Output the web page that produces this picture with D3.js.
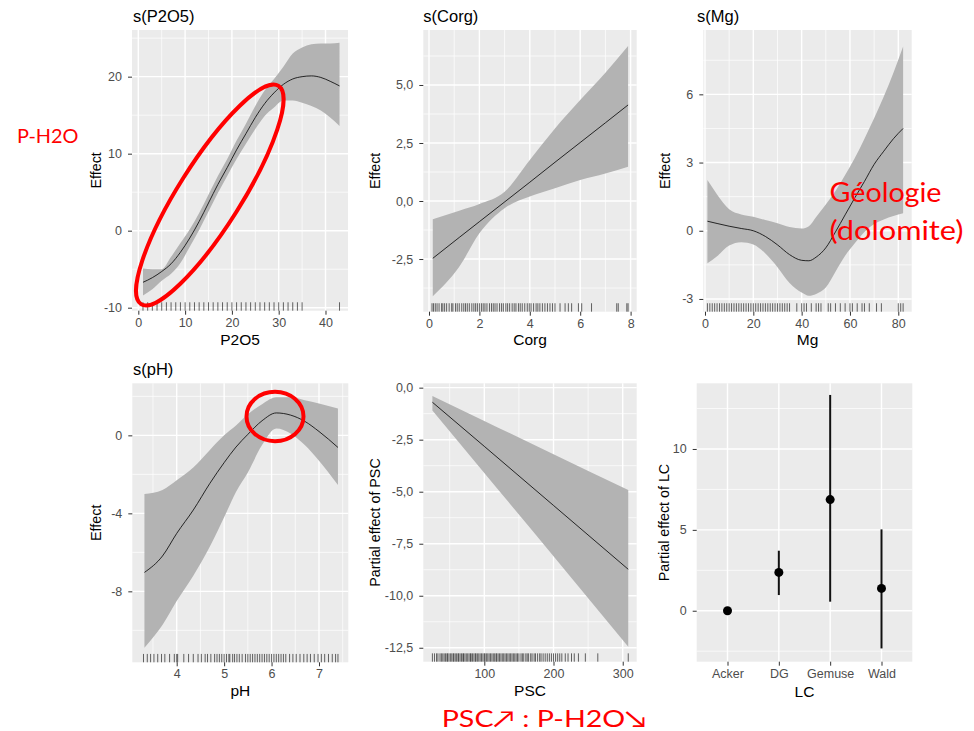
<!DOCTYPE html>
<html><head><meta charset="utf-8">
<script src="https://cdn.jsdelivr.net/npm/d3@7"></script>
<style>
body{margin:0;background:#fff}
svg{display:block}
text{font-family:"Liberation Sans",Arial,sans-serif}
</style>
</head><body>
<svg id="c" width="974" height="731"></svg>
<script>
// ---------------- DATA ----------------
// s(P2O5)
const p2o5X   = [1, 3, 5, 7, 9, 11, 13, 15, 17, 19, 21, 23, 25, 27, 29, 31, 33, 35, 37, 39, 41, 43];
const p2o5Fit = [-6.7, -6.1, -5.3, -4.3, -2.8, -0.95, 1.2, 3.6, 6.0, 8.2, 10.5, 12.6, 14.7, 16.5, 17.9, 19.0, 19.7, 20.0, 20.1, 19.9, 19.4, 18.8];
const p2o5Lo  = [-8.4, -7.6, -6.5, -5.6, -4.2, -2.1, 0.1, 2.5, 4.9, 7.1, 9.3, 11.3, 13.2, 14.9, 16.0, 16.9, 16.9, 16.6, 16.2, 15.6, 14.7, 13.6];
const p2o5Hi  = [-4.9, -5.0, -5.0, -3.4, -1.6, 0.2, 2.3, 4.7, 7.1, 9.3, 11.7, 13.9, 16.2, 18.2, 19.7, 21.3, 23.0, 23.8, 24.2, 24.3, 24.3, 24.4];
const p2o5Rug = [1,2,3,4,5,6,7,8,9,10,11,12,13,14,15,16,17,18,19,20,21,22,23,24,25,26,27,28,29,30,31,32,33,34,35,43];
// s(Corg)
const corgX   = [0.15, 1.2, 2.0, 3.0, 4.0, 5.0, 6.0, 7.0, 7.9];
const corgFit = [-2.47, -1.57, -0.89, -0.04, 0.81, 1.67, 2.52, 3.37, 4.14];
const corgLo  = [-4.10, -2.83, -1.39, -0.31, 0.19, 0.55, 0.91, 1.19, 1.48];
const corgHi  = [-0.79, -0.42, -0.13, 0.40, 1.77, 3.13, 4.35, 5.53, 6.68];
const corgRug = [0.12,0.18,0.25,0.32,0.4,0.5,0.55,0.62,0.7,0.8,0.9,0.95,1.05,1.12,1.2,1.3,1.38,1.45,1.52,1.6,1.7,1.78,1.85,1.92,2.0,2.08,2.15,2.22,2.3,2.4,2.48,2.55,2.62,2.7,2.8,2.88,2.95,3.05,3.12,3.2,3.3,3.38,3.45,3.55,3.62,3.7,3.8,3.9,3.98,4.05,4.15,4.25,4.32,4.4,4.5,4.6,4.7,4.8,4.9,5.0,5.2,5.4,5.53,5.66,5.93,6.06,6.45,7.45,7.51,7.85,7.9];
// s(Mg)
const mgX   = [1, 5, 10, 15, 20, 25, 30, 35, 40, 43, 46, 50, 54, 58, 62, 66, 70, 74, 78, 82];
const mgFit = [0.42, 0.32, 0.2, 0.1, 0.0, -0.25, -0.62, -1.05, -1.3, -1.32, -1.16, -0.75, -0.05, 0.7, 1.45, 2.17, 2.92, 3.5, 4.05, 4.5];
const mgLo  = [-1.43, -1.12, -0.65, -0.5, -0.6, -1.0, -1.6, -2.3, -2.72, -2.86, -2.78, -2.5, -1.8, -1.1, -0.55, -0.05, 0.3, 0.5, 0.65, 0.77];
const mgHi  = [2.23, 1.6, 0.95, 0.72, 0.62, 0.47, 0.33, 0.16, 0.1, 0.2, 0.6, 1.15, 1.75, 2.45, 3.2, 4.05, 4.95, 5.9, 6.95, 8.1];
const mgRug = [1,2,3,4,5,6,7,8,9,10,11,12,13,14,15,16,17,18,19,20,21,22,23,24,25,26,27,28,29,30,31,32,33,34,35,38,40,41,42,44,46,47,48,51,52,54,56,58,60,61,63,65,66,68,71,73,80,81,82];
// s(pH)
const phX   = [3.32, 3.7, 4.0, 4.35, 4.7, 5.0, 5.25, 5.5, 5.8, 6.1, 6.4, 6.7, 7.0, 7.4];
const phFit = [-7.03, -6.19, -5.03, -3.83, -2.46, -1.4, -0.6, 0.05, 0.75, 1.15, 1.04, 0.72, 0.2, -0.62];
const phLo  = [-10.89, -9.73, -8.5, -7.2, -5.7, -4.2, -2.9, -1.9, -0.5, 0.35, 0.1, -0.5, -1.3, -2.55];
const phHi  = [-3.01, -2.8, -2.3, -1.65, -0.75, 0.0, 0.5, 1.08, 1.6, 1.95, 1.95, 1.8, 1.64, 1.38];
const phRug = [3.3,3.38,3.45,3.52,3.6,3.68,3.75,3.85,3.95,4.0,4.02,4.15,4.25,4.35,4.45,4.52,4.6,4.65,4.72,4.8,4.85,4.9,4.95,5.0,5.05,5.1,5.12,5.18,5.22,5.27,5.32,5.38,5.45,5.5,5.55,5.6,5.65,5.7,5.75,5.8,5.85,5.9,5.95,6.0,6.05,6.1,6.15,6.2,6.25,6.3,6.38,6.45,6.52,6.6,6.68,6.75,6.82,6.9,6.98,7.05,7.12,7.2,7.28,7.35,7.4];
// PSC (linear)
const pscX   = [25, 100, 200, 308];
const pscFit = [-0.70, -2.82, -5.66, -8.73];
const pscLo  = [-1.10, -4.10, -8.10, -12.45];
const pscHi  = [-0.40, -1.60, -3.20, -4.92];
const pscRug = [25,28,31,33,36,38,40,42,44,46,47,49,51,53,55,56,58,60,62,63,65,67,69,70,72,74,76,78,80,81,83,85,87,88,90,92,94,96,98,100,101,103,105,107,109,111,113,115,117,118,120,122,124,126,128,130,132,134,136,138,140,142,144,146,148,150,153,155,157,160,162,164,167,169,172,174,177,180,182,185,188,191,194,197,200,203,206,209,212,217,221,226,230,236,246,264,308];
// LC (factor)
const lcCats = ["Acker", "DG", "Gemuse", "Wald"];
const lcEst  = [0, 2.37, 6.87, 1.38];
const lcLo   = [0, 0.97, 0.56, -2.33];
const lcHi   = [0, 3.71, 13.34, 5.03];
// tick labels
const p2o5XTicks = [0, 10, 20, 30, 40];
const p2o5YTicks = [-10, 0, 10, 20];
const corgXTicks = [0, 2, 4, 6, 8];
const corgYTicks = [-2.5, 0, 2.5, 5];
const mgXTicks   = [0, 20, 40, 60, 80];
const mgYTicks   = [-3, 0, 3, 6];
const phXTicks   = [4, 5, 6, 7];
const phYTicks   = [-8, -4, 0];
const pscXTicks  = [100, 200, 300];
const pscYTicks  = [-12.5, -10, -7.5, -5, -2.5, 0];
const lcYTicks   = [0, 5, 10];

// ---------------- DRAW ----------------
const svg = d3.select("#c");
const loc = d3.formatLocale({decimal: ",", thousands: ".", grouping: [3], currency: ["", ""], minus: "-"});
const fInt = loc.format("d");
const fDec = loc.format(".1f");

function minorOf(ticks, dom) {
  const s = ticks[1] - ticks[0];
  const lo = Math.min(dom[0], dom[1]), hi = Math.max(dom[0], dom[1]);
  const c = [ticks[0] - s / 2].concat(ticks.map(v => v + s / 2));
  return c.filter(v => v > lo && v < hi);
}

function frame(o) {
  const g = svg.append("g");
  const x = o.x, y = o.y;
  const [l, r] = x.range();
  const [b, t] = y.range();
  g.append("rect").attr("x", l).attr("y", t).attr("width", r - l).attr("height", b - t).attr("fill", "#ebebeb");
  // minor grid
  g.selectAll(null).data(minorOf(o.yTicks, y.domain())).join("line")
    .attr("x1", l).attr("x2", r).attr("y1", d => y(d)).attr("y2", d => y(d))
    .attr("stroke", "#fff").attr("stroke-width", 0.7);
  if (!o.discrete) {
    g.selectAll(null).data(minorOf(o.xTicks, x.domain())).join("line")
      .attr("y1", t).attr("y2", b).attr("x1", d => x(d)).attr("x2", d => x(d))
      .attr("stroke", "#fff").attr("stroke-width", 0.7);
  }
  // major grid
  g.selectAll(null).data(o.yTicks).join("line")
    .attr("x1", l).attr("x2", r).attr("y1", d => y(d)).attr("y2", d => y(d))
    .attr("stroke", "#fff").attr("stroke-width", 1.4);
  g.selectAll(null).data(o.xTicks).join("line")
    .attr("y1", t).attr("y2", b).attr("x1", d => x(d)).attr("x2", d => x(d))
    .attr("stroke", "#fff").attr("stroke-width", 1.4);
  // axes
  const ya = g.append("g").attr("transform", `translate(${l},0)`)
    .call(d3.axisLeft(y).tickValues(o.yTicks).tickFormat(o.yFmt).tickSize(4).tickPadding(6));
  const xa = g.append("g").attr("transform", `translate(0,${b})`)
    .call(d3.axisBottom(x).tickValues(o.xTicks).tickFormat(o.xFmt || null).tickSize(4).tickPadding(3));
  [ya, xa].forEach(a => {
    a.select(".domain").remove();
    a.selectAll(".tick line").attr("stroke", "#333").attr("stroke-width", 1);
    a.selectAll(".tick text").attr("fill", "#4d4d4d").style("font-size", "12.5px")
      .style("font-family", '"Liberation Sans",Arial,sans-serif');
  });
  // titles
  if (o.title) {
    g.append("text").attr("x", o.titleX).attr("y", o.titleY).text(o.title)
      .style("font-size", "16.5px").attr("fill", "#000");
  }
  g.append("text").attr("x", (l + r) / 2).attr("y", o.xLabY).attr("text-anchor", "middle")
    .style("font-size", "15.5px").attr("fill", "#000").text(o.xLab);
  g.append("text").attr("transform", `translate(${o.yLabX},${(t + b) / 2}) rotate(-90)`)
    .attr("text-anchor", "middle").style("font-size", "14.3px").attr("fill", "#000").text(o.yLab);
  return g;
}

function smooth(o) {
  const g = frame(o);
  const x = o.x, y = o.y;
  const [b, t] = y.range();
  const area = d3.area().x((d, i) => x(o.xs[i])).y0((d, i) => y(o.lo[i])).y1((d, i) => y(o.hi[i]))
    .curve(d3.curveMonotoneX);
  g.append("path").attr("d", area(o.xs)).attr("fill", "#b3b3b3");
  const line = d3.line().x((d, i) => x(o.xs[i])).y((d, i) => y(o.fit[i])).curve(d3.curveMonotoneX);
  g.append("path").attr("d", line(o.xs)).attr("fill", "none").attr("stroke", "#000").attr("stroke-width", 0.8);
  const rl = 0.03 * (b - t);
  g.selectAll(null).data(o.rug).join("line")
    .attr("x1", d => x(d)).attr("x2", d => x(d)).attr("y1", b).attr("y2", b - rl)
    .attr("stroke", "#000").attr("stroke-opacity", 0.75).attr("stroke-width", 0.8);
}

// Panel 1: s(P2O5)
smooth({
  x: d3.scaleLinear().domain([-1.35, 44.81]).range([132, 348]),
  y: d3.scaleLinear().domain([-10.39, 26.06]).range([310.7, 30]),
  xTicks: p2o5XTicks, yTicks: p2o5YTicks, yFmt: fInt, xFmt: fInt,
  title: "s(P2O5)", titleX: 133, titleY: 22, xLab: "P2O5", xLabY: 345, yLab: "Effect", yLabX: 100.5,
  xs: p2o5X, fit: p2o5Fit, lo: p2o5Lo, hi: p2o5Hi, rug: p2o5Rug
});
// Panel 2: s(Corg)
smooth({
  x: d3.scaleLinear().domain([-0.226, 8.242]).range([423.3, 636.7]),
  y: d3.scaleLinear().domain([-4.77, 7.37]).range([311.7, 30]),
  xTicks: corgXTicks, yTicks: corgYTicks, yFmt: fDec, xFmt: fInt,
  title: "s(Corg)", titleX: 423.3, titleY: 22, xLab: "Corg", xLabY: 345, yLab: "Effect", yLabX: 380,
  xs: corgX, fit: corgFit, lo: corgLo, hi: corgHi, rug: corgRug
});
// Panel 3: s(Mg)
smooth({
  x: d3.scaleLinear().domain([-0.70, 85.55]).range([703.3, 911.7]),
  y: d3.scaleLinear().domain([-3.56, 8.83]).range([311.7, 30]),
  xTicks: mgXTicks, yTicks: mgYTicks, yFmt: fInt, xFmt: fInt,
  title: "s(Mg)", titleX: 697, titleY: 22, xLab: "Mg", xLabY: 345, yLab: "Effect", yLabX: 670,
  xs: mgX, fit: mgFit, lo: mgLo, hi: mgHi, rug: mgRug
});
// Panel 4: s(pH)
smooth({
  x: d3.scaleLinear().domain([3.064, 7.618]).range([132.3, 348.3]),
  y: d3.scaleLinear().domain([-11.64, 2.67]).range([662.3, 383.3]),
  xTicks: phXTicks, yTicks: phYTicks, yFmt: fInt, xFmt: fInt,
  title: "s(pH)", titleX: 133, titleY: 375, xLab: "pH", xLabY: 696, yLab: "Effect", yLabX: 100.5,
  xs: phX, fit: phFit, lo: phLo, hi: phHi, rug: phRug
});
// Panel 5: PSC
smooth({
  x: d3.scaleLinear().domain([11.85, 320.2]).range([423.3, 636.7]),
  y: d3.scaleLinear().domain([-13.17, 0.21]).range([661.7, 383.3]),
  xTicks: pscXTicks, yTicks: pscYTicks, yFmt: fDec, xFmt: fInt,
  title: null, xLab: "PSC", xLabY: 696, yLab: "Partial effect of PSC", yLabX: 380,
  xs: pscX, fit: pscFit, lo: pscLo, hi: pscHi, rug: pscRug
});
// Panel 6: LC
(function () {
  const x = d3.scalePoint().domain(lcCats).range([696.7, 912.3]).padding(0.6);
  const y = d3.scaleLinear().domain([-3.15, 14.06]).range([661.7, 383.3]);
  const g = frame({
    x, y, discrete: true, xTicks: lcCats, yTicks: lcYTicks, yFmt: fInt, xFmt: d => d,
    title: null, xLab: "LC", xLabY: 697, yLab: "Partial effect of LC", yLabX: 669
  });
  g.selectAll(null).data(lcCats).join("line")
    .attr("x1", d => x(d)).attr("x2", d => x(d))
    .attr("y1", (d, i) => y(lcLo[i])).attr("y2", (d, i) => y(lcHi[i]))
    .attr("stroke", "#111").attr("stroke-width", 2);
  g.selectAll(null).data(lcCats).join("circle")
    .attr("cx", d => x(d)).attr("cy", (d, i) => y(lcEst[i])).attr("r", 4.5).attr("fill", "#000");
})();

// ---------------- ANNOTATIONS ----------------
const ann = svg.append("g");
ann.append("ellipse").attr("cx", 0).attr("cy", 0).attr("rx", 129).attr("ry", 31.5)
  .attr("transform", "translate(209.8,195) rotate(-57.8)")
  .attr("fill", "none").attr("stroke", "#ff0000").attr("stroke-width", 4);
ann.append("ellipse").attr("cx", 275).attr("cy", 416.5).attr("rx", 28.5).attr("ry", 24.7)
  .attr("fill", "none").attr("stroke", "#ff0000").attr("stroke-width", 4);
const redFont = 'Lato,"Open Sans","Liberation Sans",sans-serif';
ann.append("text").attr("x", 17).attr("y", 142.7).text("P-H2O")
  .style("font-family", redFont).style("font-size", "20px").attr("fill", "#ff0000")
  .attr("textLength", 61.5).attr("lengthAdjust", "spacingAndGlyphs");
ann.append("text").attr("x", 829.5).attr("y", 201.5).text("Géologie")
  .style("font-family", redFont).style("font-size", "26px").attr("fill", "#ff0000")
  .attr("textLength", 112).attr("lengthAdjust", "spacingAndGlyphs");
ann.append("text").attr("x", 829.5).attr("y", 239.5).text("(dolomite)")
  .style("font-family", redFont).style("font-size", "26px").attr("fill", "#ff0000")
  .attr("textLength", 134).attr("lengthAdjust", "spacingAndGlyphs");
ann.append("text").attr("x", 441.7).attr("y", 726.5).text("PSC↗ : P-H2O↘")
  .style("font-family", redFont).style("font-size", "24px").attr("fill", "#ff0000")
  .attr("textLength", 205).attr("lengthAdjust", "spacingAndGlyphs");
</script>
</body></html>
